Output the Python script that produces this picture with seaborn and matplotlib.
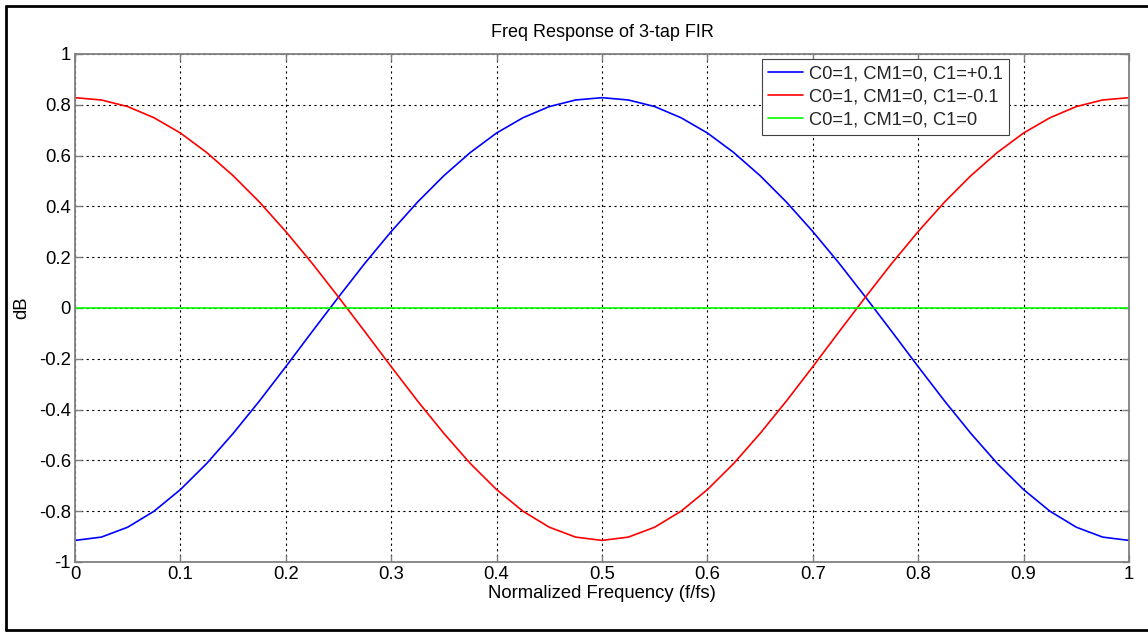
import numpy as np
import pandas as pd
import matplotlib
matplotlib.use("Agg")
import matplotlib.pyplot as plt
import seaborn as sns
from matplotlib.lines import Line2D

# ---- data ----
freq = [0.000, 0.025, 0.050, 0.075, 0.100, 0.125, 0.150, 0.175, 0.200, 0.225,
        0.250, 0.275, 0.300, 0.325, 0.350, 0.375, 0.400, 0.425, 0.450, 0.475,
        0.500, 0.525, 0.550, 0.575, 0.600, 0.625, 0.650, 0.675, 0.700, 0.725,
        0.750, 0.775, 0.800, 0.825, 0.850, 0.875, 0.900, 0.925, 0.950, 0.975, 1.000]
blue_db = [-0.915, -0.902, -0.863, -0.800, -0.715, -0.612, -0.494, -0.366, -0.231, -0.093,
           0.043, 0.176, 0.301, 0.417, 0.521, 0.612, 0.689, 0.749, 0.793, 0.819,
           0.828, 0.819, 0.793, 0.749, 0.689, 0.612, 0.521, 0.417, 0.301, 0.176,
           0.043, -0.093, -0.231, -0.366, -0.494, -0.612, -0.715, -0.800, -0.863, -0.902, -0.915]
red_db = [0.828, 0.819, 0.793, 0.749, 0.689, 0.612, 0.521, 0.417, 0.301, 0.176,
          0.043, -0.093, -0.231, -0.366, -0.494, -0.612, -0.715, -0.800, -0.863, -0.902,
          -0.915, -0.902, -0.863, -0.800, -0.715, -0.612, -0.494, -0.366, -0.231, -0.093,
          0.043, 0.176, 0.301, 0.417, 0.521, 0.612, 0.689, 0.749, 0.793, 0.819, 0.828]
green_db = [0.0] * len(freq)

series_labels = ["C0=1, CM1=0, C1=+0.1", "C0=1, CM1=0, C1=-0.1", "C0=1, CM1=0, C1=0"]
series_colors = ["#0000ff", "#ff0000", "#00ff00"]
x_ticks = [0, 0.1, 0.2, 0.3, 0.4, 0.5, 0.6, 0.7, 0.8, 0.9, 1]
x_tick_labels = ["0", "0.1", "0.2", "0.3", "0.4", "0.5", "0.6", "0.7", "0.8", "0.9", "1"]
y_ticks = [-1, -0.8, -0.6, -0.4, -0.2, 0, 0.2, 0.4, 0.6, 0.8, 1]
y_tick_labels = ["-1", "-0.8", "-0.6", "-0.4", "-0.2", "0", "0.2", "0.4", "0.6", "0.8", "1"]

df = pd.DataFrame({
    "freq": freq * 3,
    "dB": blue_db + red_db + green_db,
    "series": [series_labels[0]] * len(freq) + [series_labels[1]] * len(freq) + [series_labels[2]] * len(freq),
})

sns.set_theme(style="white")
plt.rcParams["font.family"] = ["Liberation Sans", "DejaVu Sans"]

fig = plt.figure(figsize=(11.48, 6.32), dpi=100)
fig.patch.set_facecolor("white")
ax = fig.add_axes([75 / 1148, 1 - 562 / 632, (1129 - 75) / 1148, (562 - 54) / 632])

sns.lineplot(data=df, x="freq", y="dB", hue="series", hue_order=series_labels,
             palette=dict(zip(series_labels, series_colors)), linewidth=1.2,
             ax=ax, legend=False, sort=False)

ax.set_xlim(0, 1)
ax.set_ylim(-1, 1)
ax.set_xticks(x_ticks)
ax.set_xticklabels(x_tick_labels)
ax.set_yticks(y_ticks)
ax.set_yticklabels(y_tick_labels)
ax.grid(True, color="black", linestyle=(0, (2, 3)), linewidth=0.8)
ax.set_axisbelow(True)

spine_col = "#808080"
for s in ax.spines.values():
    s.set_color(spine_col)
    s.set_linewidth(1.3)
    s.set_visible(True)
ax.tick_params(axis="both", which="both", direction="in", length=5, width=1,
               color=spine_col, labelsize=13.3, labelcolor="black",
               top=True, right=True, bottom=True, left=True, pad=3)

ax.set_title("Freq Response of 3-tap FIR", fontsize=13, color="black", pad=12)
ax.set_xlabel("Normalized Frequency (f/fs)", fontsize=13.3, color="black", labelpad=1)
ax.set_ylabel("dB", fontsize=13.3, color="black", labelpad=6)

handles = [Line2D([0], [0], color=c, linewidth=1.2) for c in series_colors]
leg = ax.legend(handles, series_labels, loc="upper right", bbox_to_anchor=(0.886, 0.990),
                fontsize=13.2, frameon=True, fancybox=False, framealpha=1,
                edgecolor="#404040", handlelength=1.9, handletextpad=0.3,
                borderpad=0.35, labelspacing=0.32, borderaxespad=0)
leg.get_frame().set_linewidth(0.8)

# outer screenshot frame
fig.add_artist(Line2D([5.5 / 1148, 1], [1 - 5.5 / 632, 1 - 5.5 / 632], color="black", linewidth=2, transform=fig.transFigure))
fig.add_artist(Line2D([5.5 / 1148, 5.5 / 1148], [1 - 5.5 / 632, 1 - 630 / 632], color="black", linewidth=2, transform=fig.transFigure))
fig.add_artist(Line2D([5.5 / 1148, 1], [1 - 630 / 632, 1 - 630 / 632], color="black", linewidth=2, transform=fig.transFigure))

fig.savefig("out.png", dpi=100, facecolor="white")
